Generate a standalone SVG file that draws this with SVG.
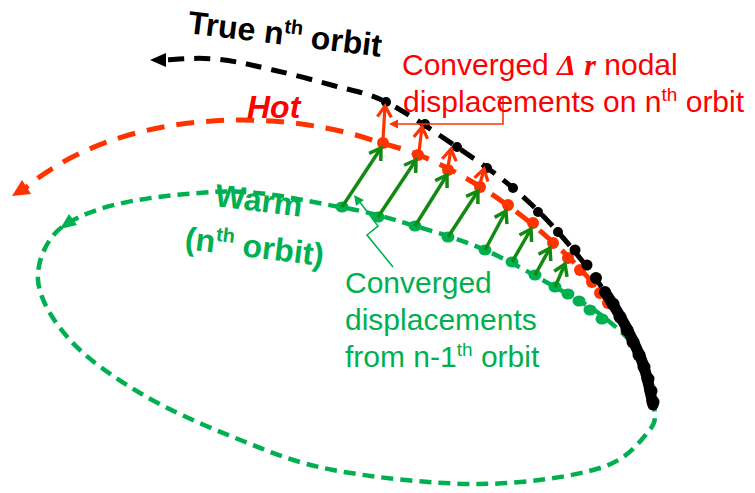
<svg xmlns="http://www.w3.org/2000/svg" width="755" height="493" viewBox="0 0 755 493">
<style>
.t{font-family:"Liberation Sans",Arial,sans-serif}
.b{font-weight:bold}
.redT{fill:#FF0000}
.grnT{fill:#00B050}
.sym{font-family:"Liberation Serif","Times New Roman",serif;font-weight:bold;font-style:italic}
.orb{fill:none;stroke-linecap:butt}
.gArr{stroke:#128A12;stroke-width:3.5;fill:none;marker-end:url(#mG)}
.rArr{stroke:#FF3300;stroke-width:3.2;fill:none;marker-end:url(#mR)}
.gd{fill:#00B050}
.rd{fill:#FF3300}
.kd{fill:#000}
</style>
<defs>
<marker id="mG" viewBox="-2 -2 16 18" refX="11" refY="7" markerWidth="16" markerHeight="18" markerUnits="userSpaceOnUse" orient="auto">
<path d="M0,0 L11,7 L0,14" fill="none" stroke="#128A12" stroke-width="3.5"/>
</marker>
<marker id="mR" viewBox="-2 -2 16 18" refX="11" refY="7" markerWidth="16" markerHeight="18" markerUnits="userSpaceOnUse" orient="auto">
<path d="M0,0 L11,7 L0,14" fill="none" stroke="#FF3300" stroke-width="3.2"/>
</marker>
</defs>
<rect width="755" height="493" fill="#fff"/>

<g id="orbit-warm">
<path class="orb" stroke="#00B050" stroke-width="4.5" stroke-dasharray="12 7" d="M340,207 C306.3,201.3 259.3,188.7 213,192 C166.7,195.3 100,200 62,227 C47,238 36.7,261.2 38,280 C39.3,298.8 53,321.2 70,340 C87,358.8 112.8,376.8 140,393 C167.2,409.2 200.8,424.2 233,437 C265.2,449.8 291.8,462.2 333,470 C374.2,477.8 435.5,484.3 480,484 C524.5,483.7 572,476.7 600,468 C628,459.3 639,442.5 648,432 C657,421.5 655.3,417.8 654,405 C652.7,392.2 648.2,369.5 640,355 C631.8,340.5 619.2,329.3 605,318 C590.8,306.7 575,298.3 555,287 C535,275.7 508.3,260.2 485,250 C461.7,239.8 439.2,233.2 415,226 C390.8,218.8 373.7,212.7 340,207 Z"/>
<polygon fill="#00B050" points="60,229 69,214 77,225"/>
<ellipse class="gd" cx="342" cy="207" rx="6.5" ry="5.5"/>
<ellipse class="gd" cx="378" cy="217" rx="6.5" ry="5.5"/>
<ellipse class="gd" cx="415" cy="226" rx="6.5" ry="5.5"/>
<ellipse class="gd" cx="448" cy="237" rx="6.5" ry="5.5"/>
<ellipse class="gd" cx="485" cy="250" rx="6.5" ry="5.5"/>
<ellipse class="gd" cx="512" cy="262" rx="6.5" ry="5.5"/>
<ellipse class="gd" cx="535" cy="275" rx="6.5" ry="5.5"/>
<ellipse class="gd" cx="555" cy="287" rx="6.5" ry="5.5"/>
<ellipse class="gd" cx="568" cy="294" rx="6.5" ry="5.5"/>
<ellipse class="gd" cx="579" cy="301" rx="6.5" ry="5.5"/>
<ellipse class="gd" cx="590" cy="310" rx="6.5" ry="5.5"/>
<ellipse class="gd" cx="602" cy="319" rx="6.5" ry="5.5"/>
</g>

<g id="orbit-hot">
<path class="orb" stroke="#FF3300" stroke-width="5" stroke-dasharray="18 12" d="M628,335 C595,265 475,163 380,143 C300,112 130,100 24,189"/>
<polygon fill="#FF3300" points="12,196 22,180 31,194"/>
<circle class="rd" cx="383" cy="143" r="6"/>
<circle class="rd" cx="418" cy="155" r="6"/>
<circle class="rd" cx="448" cy="170" r="6"/>
<circle class="rd" cx="480" cy="187" r="6"/>
<circle class="rd" cx="508" cy="205" r="6"/>
<circle class="rd" cx="533" cy="223" r="6"/>
<circle class="rd" cx="553" cy="243" r="6"/>
<circle class="rd" cx="568" cy="258" r="6"/>
<circle class="rd" cx="580" cy="270" r="6"/>
<circle class="rd" cx="592" cy="282" r="6"/>
<circle class="rd" cx="600" cy="293" r="6"/>
<circle class="rd" cx="608" cy="303" r="6"/>
</g>

<g id="orbit-true">
<path class="orb" stroke="#000" stroke-width="5" stroke-dasharray="16 10" d="M653,405 C650.8,396.8 648,374.8 640,356 C632,337.2 618.7,312.7 605,292 C591.3,271.3 573.3,249.3 558,232 C542.7,214.7 529.8,202.2 513,188 C496.2,173.8 478.2,161.3 457,147 C435.8,132.7 406.3,112.2 386,102 C365.7,91.8 353.8,91.3 335,86 C316.2,80.7 293,74.5 273,70 C253,65.5 235.5,60.7 215,59 C194.5,57.3 175,59.5 164,60"/>
<path fill="none" stroke="#000" stroke-width="11" stroke-linecap="round" d="M607,295 C618.7,312.7 632,337.2 640,356 C648,374.8 650.8,396.8 653,405"/>
<polygon fill="#000" points="150,60 166,53 166,67"/>
<circle class="kd" cx="386" cy="102" r="5"/>
<circle class="kd" cx="425" cy="124" r="5"/>
<circle class="kd" cx="457" cy="147" r="5"/>
<circle class="kd" cx="487" cy="168" r="5"/>
<circle class="kd" cx="513" cy="188" r="5"/>
<circle class="kd" cx="538" cy="212" r="5"/>
<circle class="kd" cx="558" cy="232" r="5"/>
<circle class="kd" cx="575" cy="250" r="5.5"/>
<circle class="kd" cx="587" cy="265" r="5.5"/>
<circle class="kd" cx="596" cy="278" r="6"/>
<circle class="kd" cx="605" cy="292" r="6"/>
<circle class="kd" cx="613" cy="304" r="6.5"/>
<circle class="kd" cx="620" cy="317" r="6.5"/>
<circle class="kd" cx="627" cy="330" r="6.5"/>
<circle class="kd" cx="633" cy="342" r="6.5"/>
<circle class="kd" cx="639" cy="355" r="6.5"/>
<circle class="kd" cx="644" cy="367" r="6.5"/>
<circle class="kd" cx="648" cy="379" r="6.5"/>
<circle class="kd" cx="651" cy="391" r="6.5"/>
<circle class="kd" cx="653" cy="402" r="6.5"/>
</g>

<g id="connectors">
<line class="gArr" x1="342" y1="207" x2="381" y2="148"/>
<line class="gArr" x1="378" y1="217" x2="416" y2="160"/>
<line class="gArr" x1="415" y1="226" x2="447" y2="175"/>
<line class="gArr" x1="448" y1="237" x2="478" y2="191"/>
<line class="gArr" x1="485" y1="250" x2="506" y2="211"/>
<line class="gArr" x1="512" y1="262" x2="531" y2="229"/>
<line class="gArr" x1="535" y1="275" x2="550" y2="248"/>
<line class="gArr" x1="555" y1="287" x2="565" y2="264"/>
<line class="rArr" x1="383" y1="140" x2="385" y2="106"/>
<line class="rArr" x1="419" y1="152" x2="422" y2="127"/>
<line class="rArr" x1="448" y1="167" x2="451" y2="149"/>
<line class="rArr" x1="480" y1="184" x2="484" y2="169"/>
<polyline fill="none" stroke="#FF3300" stroke-width="1.6" points="497,97 503,97 503,124 396,124"/>
<polygon fill="#FF3300" points="389,124 398,119.5 398,128.5"/>
<polyline fill="none" stroke="#00B050" stroke-width="1.6" points="393,267 367,235 378,226 359,201"/>
<polygon fill="#00B050" points="354,195 364,200 356,206"/>
</g>

<g id="label-true">
<text class="t b" x="187" y="33" font-size="32" fill="#000" transform="rotate(7 187 33)">True n<tspan font-size="20" dy="-12">th</tspan><tspan dy="12"> orbit</tspan></text>
</g>
<g id="label-hot">
<text class="t b redT" x="247" y="118" font-size="32" font-style="italic">Hot</text>
</g>
<g id="label-warm">
<text class="t b grnT" x="214" y="206" font-size="32" transform="rotate(7 214 206)">Warm</text>
<text class="t b grnT" x="184" y="249" font-size="32" transform="rotate(7 184 249)">(n<tspan font-size="20" dy="-12">th</tspan><tspan dy="12"> orbit)</tspan></text>
</g>
<g id="label-nodal">
<text class="t redT" x="402" y="75" font-size="30">Converged <tspan class="sym">Δ</tspan> <tspan class="sym">r</tspan> nodal</text>
<text class="t redT" x="403" y="112" font-size="30">displacements on n<tspan font-size="19" dy="-11">th</tspan><tspan dy="11"> orbit</tspan></text>
</g>
<g id="label-prev">
<text class="t grnT" x="345" y="293" font-size="30">Converged</text>
<text class="t grnT" x="345" y="330" font-size="30">displacements</text>
<text class="t grnT" x="345" y="367" font-size="30">from n-1<tspan font-size="19" dy="-11">th</tspan><tspan dy="11"> orbit</tspan></text>
</g>
</svg>
